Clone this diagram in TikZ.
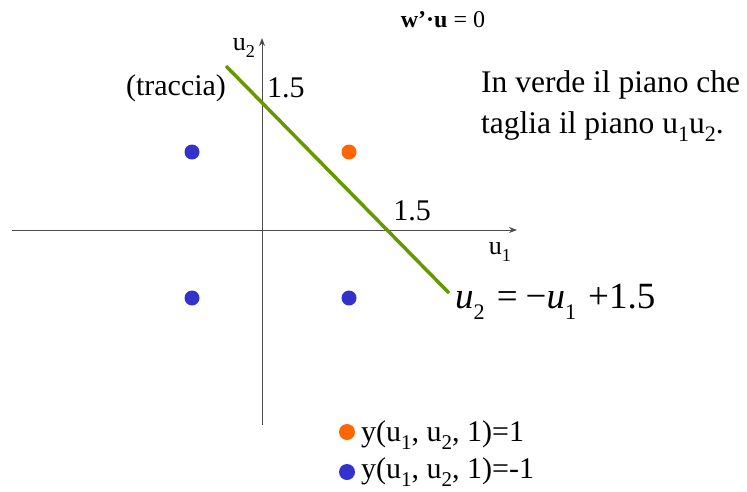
\documentclass[tikz,border=0pt]{standalone}
\usepackage{fontspec}
\setmainfont{Liberation Serif}
\usetikzlibrary{arrows.meta}
\definecolor{lgreen}{RGB}{102,153,0}
\definecolor{dblue}{RGB}{51,51,204}
\definecolor{dorange}{RGB}{255,102,0}
\newcommand{\sbs}[1]{\raisebox{-0.25em}{\scalebox{0.7}{#1}}}
\begin{document}
\begin{tikzpicture}[x=1pt,y=-1pt,
  axis/.style={draw=black!70,line width=0.8pt,-{Stealth[length=8pt,width=6pt]}},
  pt/.style={circle,inner sep=0pt,minimum size=15pt},
  lbl/.style={inner sep=0pt,font=\fontsize{30}{41}\selectfont},
  axl/.style={inner sep=0pt,font=\fontsize{26}{30}\selectfont},
  small/.style={inner sep=0pt,font=\fontsize{24}{28}\selectfont}]
\useasboundingbox (0,0) rectangle (747,491);
\coordinate (xl) at (12,230);
\coordinate (xr) at (517,230);
\coordinate (yb) at (262,425);
\coordinate (yt) at (262,38);
\draw[axis] (xl) -- (xr);
\draw[axis] (yb) -- (yt);
\coordinate (ga) at (226,66);
\coordinate (gb) at (449,293);
\draw[lgreen,line width=3.5pt] (ga) -- (gb);
\node[axl] (u2) at (244,48) {u\sbs{2}};
\node[axl] (u1) at (500,252) {u\sbs{1}};
\node[lbl,anchor=west] (c15a) at (267,88) {1.5};
\node[lbl] (c15b) at (412,211) {1.5};
\node[lbl] (tr) at (176,88) {(traccia)};
\node[pt,fill=dblue] (p1) at (192,152) {};
\node[pt,fill=dorange] (p2) at (349,152) {};
\node[pt,fill=dblue] (p3) at (192,298) {};
\node[pt,fill=dblue] (p4) at (349,298) {};
\node[small] (w) at (443,20) {\textbf{w’·u} = 0};
\node[inner sep=0pt,anchor=west,align=left,font=\fontsize{31.5}{41}\selectfont] (txt) at (481,106) {In verde il piano che\\taglia il piano u\sbs{1}u\sbs{2}.};
\node[inner sep=0pt,anchor=west,font=\fontsize{37}{40}\selectfont] (eq) at (455,302) {\textit{u}\raisebox{-0.3em}{\scalebox{0.6}{2}}\hspace{12pt}=\hspace{8pt}−\textit{u}\raisebox{-0.3em}{\scalebox{0.6}{1}}\hspace{12pt}+1.5};
\node[pt,fill=dorange,minimum size=16pt] (l1) at (347,432) {};
\node[lbl,anchor=west] (t1) at (361,435) {y(u\sbs{1}, u\sbs{2}, 1)=1};
\node[pt,fill=dblue,minimum size=16pt] (l2) at (347,472) {};
\node[lbl,anchor=west] (t2) at (361,472) {y(u\sbs{1}, u\sbs{2}, 1)=-1};
\end{tikzpicture}
\end{document}
